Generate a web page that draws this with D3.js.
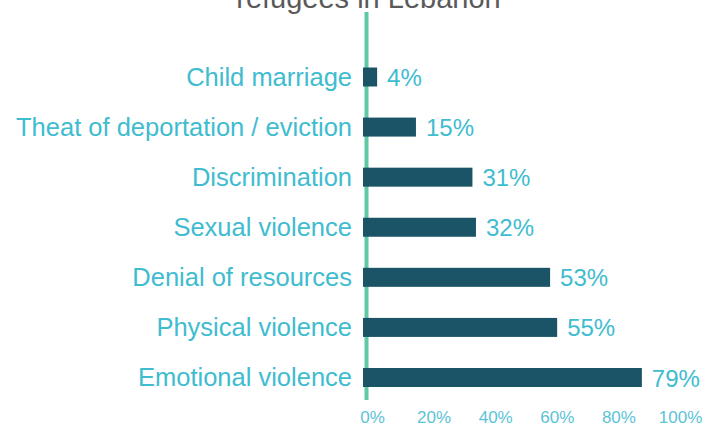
<!DOCTYPE html>
<html>
<head>
<meta charset="utf-8">
<script src="https://cdn.jsdelivr.net/npm/d3@7"></script>
<style>
  html, body { margin: 0; padding: 0; background: #ffffff; }
  svg { display: block; font-family: "Liberation Sans", Arial, Helvetica, sans-serif; }
</style>
</head>
<body>
<svg id="chart" width="708" height="426"></svg>
<script>
const categories = [
  "Child marriage",
  "Theat of deportation / eviction",
  "Discrimination",
  "Sexual violence",
  "Denial of resources",
  "Physical violence",
  "Emotional violence"
];
const values = [4, 15, 31, 32, 53, 55, 79];
const tickValues = [0, 20, 40, 60, 80, 100];
const titleText = "refugees in Lebanon";

const svg = d3.select("#chart");

const x = d3.scaleLinear().domain([0, 100]).range([363, 716]);
const y = d3.scalePoint().domain(categories).range([77, 377.5]);
const xTicks = d3.scaleLinear().domain([0, 100]).range([372, 680]);
const barH = 19;

// title (second line, partially cut off at the top as in the reference)
svg.append("text")
  .attr("x", 368.5)
  .attr("y", 8)
  .attr("text-anchor", "middle")
  .attr("fill", "#5a5a5a")
  .attr("font-size", 29)
  .text(titleText);

// vertical green baseline
svg.append("line")
  .attr("x1", 366.5).attr("x2", 366.5)
  .attr("y1", 12).attr("y2", 400)
  .attr("stroke", "#5fc8a6")
  .attr("stroke-width", 4);

// bars
svg.selectAll("rect.bar")
  .data(categories)
  .join("rect")
  .attr("class", "bar")
  .attr("x", x(0))
  .attr("y", d => y(d) - barH / 2)
  .attr("width", (d, i) => x(values[i]) - x(0))
  .attr("height", barH)
  .attr("fill", "#1b5466");

// category labels
svg.selectAll("text.cat")
  .data(categories)
  .join("text")
  .attr("class", "cat")
  .attr("x", 352)
  .attr("y", d => y(d) + 8.5)
  .attr("text-anchor", "end")
  .attr("fill", "#40bcd0")
  .attr("font-size", 25.5)
  .text(d => d);

// value labels
svg.selectAll("text.val")
  .data(categories)
  .join("text")
  .attr("class", "val")
  .attr("x", (d, i) => x(values[i]) + 10)
  .attr("y", d => y(d) + 9)
  .attr("fill", "#40bcd0")
  .attr("font-size", 24)
  .text((d, i) => values[i] + "%");

// x axis tick labels
const axis = d3.axisBottom(xTicks)
  .tickValues(tickValues)
  .tickSize(0)
  .tickPadding(0)
  .tickFormat(d => d + "%");
const gAxis = svg.append("g")
  .attr("transform", "translate(0,411)")
  .call(axis);
gAxis.select(".domain").remove();
gAxis.selectAll("text")
  .attr("fill", "#5cc3d6")
  .attr("font-size", 17)
  .attr("font-family", "\"Liberation Sans\", Arial, sans-serif");
</script>
</body>
</html>
